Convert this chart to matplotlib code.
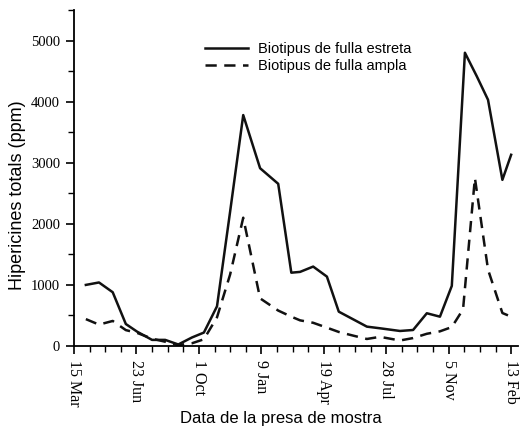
import matplotlib
matplotlib.use("Agg")
import matplotlib.pyplot as plt
from matplotlib.ticker import MultipleLocator

# sampling dates in days after 15 Mar (year 1)
days_narrow = [19, 40, 62, 83, 101, 125, 146, 167, 189, 208, 229, 250, 271, 298, 327,
               348, 362, 383, 405, 424, 447, 469, 490, 522, 543, 565, 586, 605, 626,
               645, 663, 686, 700]
narrow_leaf = [1000, 1040, 880, 360, 235, 100, 100, 25, 140, 220, 650, 2200, 3780, 2910, 2655,
               1200, 1213, 1300, 1136, 562, 437, 317, 290, 246, 262, 536, 480, 984, 4800,
               4415, 4030, 2720, 3130]

days_broad = [19, 40, 62, 83, 101, 125, 146, 167, 189, 208, 229, 250, 271, 298, 327,
              348, 362, 383, 405, 424, 447, 469, 490, 522, 543, 565, 586, 605, 623,
              642, 663, 686, 700]
broad_leaf = [440, 350, 410, 260, 215, 120, 70, 15, 45, 110, 470, 1170, 2100, 780, 580,
              480, 420, 380, 300, 230, 170, 115, 150, 90, 130, 200, 240, 310, 600,
              2750, 1250, 540, 480]

tick_days = [0, 100, 200, 300, 400, 500, 600, 700]
tick_labels = ["15 Mar", "23 Jun", "1 Oct", "9 Jan", "19 Apr", "28 Jul", "5 Nov", "13 Feb"]

fig = plt.figure(figsize=(5.24, 4.29), dpi=100)
ax = fig.add_axes([74/524, 1-346/429, (518-74)/524, (346-10)/429])

ax.plot(days_narrow, narrow_leaf, color="#111111", lw=1.8, ls="-",
        label="Biotipus de fulla estreta")
ax.plot(days_broad, broad_leaf, color="#111111", lw=1.8, ls=(0, (4.5, 3)),
        label="Biotipus de fulla ampla")

ax.set_xlim(0, 711)
ax.set_ylim(0, 5500)
ax.spines["top"].set_visible(False)
ax.spines["right"].set_visible(False)
for s in ("left", "bottom"):
    ax.spines[s].set_linewidth(1.3)

ax.set_xticks(tick_days)
ax.set_xticklabels(tick_labels, rotation=270, family="Liberation Serif", fontsize=11.5)
ax.xaxis.set_minor_locator(MultipleLocator(25))
ax.yaxis.set_major_locator(MultipleLocator(1000))
ax.yaxis.set_minor_locator(MultipleLocator(500))
for lab in ax.get_yticklabels():
    lab.set_family("Liberation Serif")
    lab.set_fontsize(10.5)
ax.tick_params(which="major", length=6, width=1.2, direction="out", pad=4)
ax.tick_params(which="minor", length=4, width=1.0, direction="out")

fig.text(17.5/524, 1-195/429, "Hipericines totals (ppm)", family="Liberation Sans",
         fontsize=13, rotation=90, ha="center", va="center")
fig.text(281/524, 1-419/429, "Data de la presa de mostra", family="Liberation Sans",
         fontsize=12, ha="center", va="center")

leg = ax.legend(loc="upper left", bbox_to_anchor=(198/524, 1-35/429),
                bbox_transform=fig.transFigure, frameon=False,
                prop={"family": "Liberation Sans", "size": 10.5},
                handlelength=2.9, handletextpad=0.7, labelspacing=0.2, borderpad=0)

fig.savefig("out.png", dpi=100)
